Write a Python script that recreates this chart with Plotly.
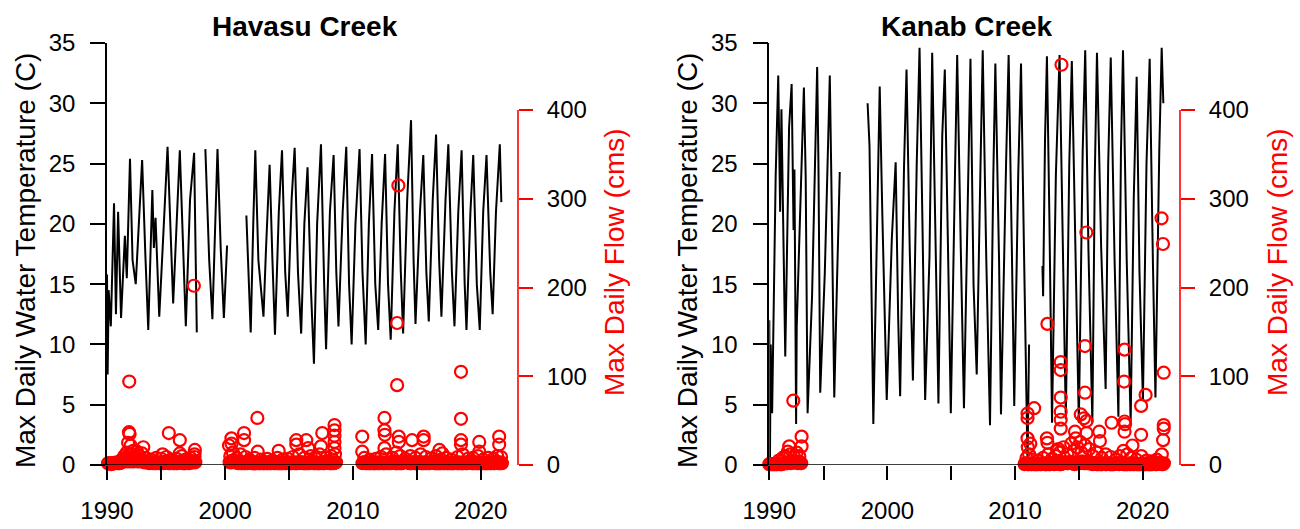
import plotly.graph_objects as go

W, H = 1300, 529

# ---------------- DATA ----------------
# Havasu Creek max daily water temperature (decimal year, deg C); None marks a gap
havasu_temp = [
    (1990.75, 15.8), (1990.80, 7.5), (1990.88, 14.5), (1991.05, 11.5), (1991.30, 21.7),
    (1991.45, 12.5), (1991.62, 21.0), (1991.85, 12.2), (1992.15, 19.0), (1992.30, 15.5),
    (1992.55, 25.4), (1992.75, 17.0), (1993.00, 15.0), (1993.50, 25.3), (1993.75, 17.5),
    (1993.98, 11.2), (1994.30, 22.8), (1994.42, 18.0), (1994.55, 20.5), (1994.84, 12.3),
    (1995.20, 20.0), (1995.49, 26.4), (1995.93, 13.4), (1996.20, 20.5), (1996.45, 26.1),
    (1996.92, 11.5), (1997.25, 22.0), (1997.57, 25.9), (1997.70, 17.0), (1997.78, 11.0),
    (None, None),
    (1998.45, 26.2), (1998.75, 17.0), (1999.00, 12.1), (1999.20, 20.0), (1999.40, 26.2),
    (1999.65, 18.0), (1999.90, 12.2), (2000.15, 18.2),
    (None, None),
    (2001.66, 20.7), (2002.00, 11.0), (2002.20, 20.0), (2002.36, 26.1), (2002.60, 17.0),
    (2003.00, 12.3), (2003.20, 18.0), (2003.48, 24.9), (2003.70, 17.0), (2003.90, 10.8),
    (2004.20, 21.0), (2004.45, 26.1), (2004.70, 16.0), (2004.90, 12.3), (2005.20, 22.0),
    (2005.44, 26.3), (2005.70, 16.0), (2005.95, 10.9), (2006.20, 20.0), (2006.45, 24.7),
    (2006.70, 15.0), (2006.95, 8.4), (2007.20, 20.0), (2007.50, 26.6), (2007.75, 15.0),
    (2007.90, 9.6), (2008.20, 21.0), (2008.49, 25.7), (2008.70, 16.0), (2008.87, 11.5),
    (2009.20, 21.0), (2009.48, 26.4), (2009.70, 15.0), (2009.90, 10.0), (2010.20, 20.0),
    (2010.52, 26.2), (2010.75, 16.0), (2011.00, 10.0), (2011.25, 20.0), (2011.50, 25.8),
    (2011.75, 15.0), (2011.98, 11.2), (2012.25, 20.0), (2012.52, 25.8), (2012.75, 15.0),
    (2012.96, 10.4), (2013.25, 21.0), (2013.51, 26.6), (2013.75, 16.0), (2013.93, 10.9),
    (2014.25, 22.0), (2014.55, 28.6), (2014.75, 17.0), (2014.90, 11.7), (2015.25, 21.0),
    (2015.51, 25.7), (2015.75, 16.0), (2015.94, 11.9), (2016.25, 22.0), (2016.51, 27.4),
    (2016.75, 17.0), (2016.93, 12.3), (2017.25, 22.0), (2017.47, 26.6), (2017.75, 16.0),
    (2017.95, 11.5), (2018.25, 21.0), (2018.51, 26.1), (2018.75, 15.0), (2018.89, 11.2),
    (2019.20, 21.0), (2019.42, 25.7), (2019.70, 15.0), (2019.93, 11.2), (2020.20, 21.0),
    (2020.46, 25.7), (2020.75, 16.0), (2020.94, 12.5), (2021.20, 21.0), (2021.50, 26.6),
    (2021.62, 21.8),
]

# Kanab Creek max daily water temperature (decimal year, deg C)
kanab_temp = [
    (1990.75, 12.0), (1990.80, 0.2), (1990.86, 10.0), (1990.97, 4.3), (1991.25, 24.0),
    (1991.45, 32.3), (1991.60, 21.0), (1991.70, 29.5), (1992.00, 9.0), (1992.30, 28.0),
    (1992.50, 31.6), (1992.65, 19.5), (1992.72, 24.5), (1992.85, 3.4), (1992.90, 11.5),
    (1993.20, 22.0), (1993.46, 31.3), (1993.60, 24.0), (1993.75, 4.3), (1994.10, 14.0),
    (1994.50, 33.0), (1994.60, 25.0), (1994.74, 6.0), (1995.10, 16.0), (1995.49, 32.3),
    (1995.60, 24.5), (1995.84, 5.6), (1996.05, 15.0), (1996.27, 24.3),
    (None, None),
    (1998.45, 30.0), (1998.60, 26.5), (1998.90, 3.4), (1999.15, 16.0), (1999.40, 31.4),
    (1999.60, 21.0), (1999.95, 5.4), (2000.35, 18.8), (2000.65, 25.1), (2000.85, 12.0),
    (2001.00, 5.7), (2001.30, 24.5), (2001.50, 32.8), (2001.75, 18.0), (2002.00, 7.0),
    (2002.30, 25.0), (2002.52, 34.6), (2002.75, 20.0), (2002.96, 5.4), (2003.30, 17.3),
    (2003.51, 34.2), (2003.75, 20.0), (2004.00, 5.1), (2004.30, 27.3), (2004.50, 32.8),
    (2004.75, 18.0), (2004.97, 4.3), (2005.30, 24.3), (2005.47, 34.0), (2005.75, 18.0),
    (2006.00, 4.7), (2006.30, 21.9), (2006.51, 33.7), (2006.75, 15.0), (2007.00, 7.5),
    (2007.30, 25.0), (2007.47, 34.4), (2007.75, 17.0), (2008.04, 3.3), (2008.30, 24.0),
    (2008.46, 33.3), (2008.75, 17.0), (2008.90, 4.2), (2009.30, 25.0), (2009.50, 34.0),
    (2009.75, 18.0), (2009.94, 4.9), (2010.25, 24.0), (2010.47, 33.3), (2010.70, 18.0),
    (2010.98, 0.2), (2011.10, 10.0),
    (None, None),
    (2012.15, 16.5), (2012.20, 14.0), (2012.35, 27.0), (2012.50, 33.9), (2012.70, 20.0),
    (2012.90, 3.5), (2013.20, 24.0), (2013.49, 34.0), (2013.75, 18.0), (2013.98, 3.8),
    (2014.25, 25.0), (2014.45, 33.5), (2014.75, 17.0), (2015.00, 3.5), (2015.30, 26.0),
    (2015.50, 34.4), (2015.75, 18.0), (2016.06, 3.5), (2016.25, 24.0), (2016.42, 34.2),
    (2016.75, 18.0), (2017.10, 6.3), (2017.30, 25.0), (2017.50, 33.8), (2017.80, 17.0),
    (2018.10, 4.0), (2018.30, 26.0), (2018.46, 34.4), (2018.75, 17.0), (2019.06, 3.5),
    (2019.30, 22.0), (2019.53, 32.2), (2019.75, 16.0), (2020.02, 5.4), (2020.30, 25.0),
    (2020.55, 33.7), (2020.80, 17.0), (2021.00, 5.6), (2021.30, 26.0), (2021.49, 34.6),
    (2021.62, 30.0),
]

# Base-flow circles: each run starts at a decimal year, one value per month (cms)
havasu_base_runs = [
    (1990.83, [2, 2, 2, 1, 2, 2, 2, 2, 3, 2, 2, 2, 3,
               3, 4, 5, 6, 5, 4, 6, 5, 4, 5, 6, 4,
               5, 6, 5, 4, 6, 5, 4, 5, 4, 3, 4, 3,
               3, 3, 2, 3, 3, 2, 3, 2, 2, 3, 3, 2,
               2, 3, 3, 2, 3, 3, 4, 3, 2, 2, 3, 3,
               2, 2, 3, 2, 2, 3, 3, 4, 3, 2, 2, 2,
               2, 3, 3, 2, 3, 4, 3, 3, 4, 3]),
    (2000.35, [3, 4, 3, 5, 4, 3, 4, 3, 2, 3, 3, 2,
               2, 3, 2, 2, 3, 2, 3, 4, 3, 2, 2, 2,
               2, 2, 3, 2, 2, 2, 3, 2, 2, 2, 3, 2,
               2, 3, 2, 2, 3, 3, 2, 2, 3, 2, 2, 2,
               2, 2, 2, 3, 2, 2, 3, 3, 2, 2, 2, 3,
               3, 2, 2, 2, 3, 3, 2, 3, 3, 2, 2, 2,
               2, 3, 2, 2, 3, 4, 3, 2, 2, 3, 2, 2,
               2, 2, 3, 3, 2, 2, 3, 4, 4, 3, 2, 2,
               2, 3, 2, 3, 3]),
    (2010.75, [2, 3, 3, 2, 2, 3, 2, 2, 2, 3, 2, 2,
               2, 2, 3, 2, 2, 3, 3, 2, 2, 2, 3, 2,
               3, 2, 2, 3, 3, 4, 3, 2, 2, 2, 3, 2,
               2, 2, 3, 3, 4, 4, 3, 3, 2, 2, 2, 3,
               3, 2, 2, 2, 3, 3, 3, 2, 2, 2, 3, 2,
               2, 3, 2, 2, 3, 3, 4, 3, 2, 2, 2, 2,
               2, 2, 2, 3, 2, 2, 3, 2, 2, 2, 3, 2,
               2, 2, 2, 3, 3, 2, 2, 3, 2, 2, 2, 2,
               3, 2, 2, 3, 3, 4, 3, 2, 2, 2, 3, 2,
               2, 2, 2, 3, 2, 2, 3, 2, 2, 2, 2, 3,
               2, 2, 3, 2, 2, 3, 3, 3, 2, 2, 3, 2]),
]
kanab_base_runs = [
    (1990.75, [1, 1, 1, 1, 1, 1, 1, 1, 1, 2, 1, 1,
               1, 2, 2, 3, 2, 2, 3, 3, 2, 3, 4, 3,
               3, 4, 3, 2, 3, 3, 2]),
    (2010.75, [1, 2, 2, 1, 1, 2, 1, 1, 2, 1, 1, 1,
               1, 1, 2, 1, 1, 2, 2, 1, 1, 1, 2, 1,
               1, 2, 2, 2, 1, 2, 2, 3, 2, 1, 1, 2,
               2, 2, 3, 3, 2, 2, 3, 3, 2, 2, 2, 1,
               2, 3, 3, 2, 2, 3, 4, 3, 2, 2, 3, 2,
               2, 2, 2, 2, 1, 2, 2, 2, 1, 1, 2, 1,
               1, 1, 2, 2, 1, 1, 2, 2, 1, 1, 1, 1,
               1, 2, 2, 2, 2, 1, 2, 2, 2, 1, 1, 1,
               1, 1, 2, 1, 1, 2, 1, 1, 2, 1, 1, 1,
               1, 1, 2, 2, 1, 1, 1, 2, 1, 1, 1, 1,
               1, 2, 2, 1, 1, 2, 2, 3, 2, 1, 1, 2]),
]

# Scattered mid-level circles just above the base band (decimal year, cms)
havasu_mid = [
    (1991.9, 6), (1992.1, 10), (1992.2, 8), (1992.3, 14), (1992.7, 12), (1992.8, 16),
    (1992.9, 8), (1993.1, 15), (1993.2, 11), (1993.3, 10), (1993.5, 13), (1993.8, 8),
    (1994.2, 6), (1994.6, 8), (1995.0, 7), (1995.4, 9), (1995.8, 6), (1996.2, 7),
    (1996.6, 10), (1996.9, 6), (1997.3, 8), (1997.6, 9), (2000.4, 10), (2000.6, 14),
    (2000.9, 8), (2001.2, 12), (2001.6, 9), (2001.9, 6), (2002.3, 8), (2002.8, 6),
    (2003.3, 7), (2003.7, 5), (2004.1, 8), (2004.5, 6), (2004.9, 7), (2005.3, 9),
    (2005.8, 12), (2006.2, 8), (2006.7, 10), (2007.1, 7), (2007.4, 12), (2007.9, 8),
    (2008.3, 10), (2008.6, 12), (2010.9, 8), (2011.3, 6), (2011.8, 7), (2012.2, 9),
    (2012.6, 12), (2013.1, 8), (2013.4, 14), (2013.7, 10), (2014.1, 7), (2014.5, 10),
    (2014.9, 8), (2015.3, 12), (2015.7, 9), (2016.1, 7), (2016.5, 10), (2016.9, 6),
    (2017.3, 8), (2017.7, 6), (2018.2, 9), (2018.6, 12), (2019.0, 7), (2019.4, 8),
    (2019.8, 10), (2020.2, 6), (2020.6, 8), (2021.0, 7), (2021.3, 10), (2021.6, 9),
]
kanab_mid = [
    (1991.5, 5), (1991.8, 8), (1992.0, 10), (1992.4, 12), (1992.7, 9), (1992.9, 14),
    (1993.1, 10), (2010.9, 8), (2011.1, 12), (2011.4, 6), (2011.8, 5), (2012.2, 8),
    (2012.6, 12), (2012.9, 7), (2013.2, 10), (2013.5, 14), (2013.8, 20), (2014.1, 12),
    (2014.4, 24), (2014.6, 16), (2014.9, 20), (2015.2, 14), (2015.5, 22), (2015.8, 18),
    (2016.1, 10), (2016.4, 14), (2016.8, 8), (2017.1, 12), (2017.5, 9), (2017.9, 6),
    (2018.2, 10), (2018.5, 16), (2018.8, 12), (2019.1, 8), (2019.5, 6), (2019.9, 10),
    (2020.3, 5), (2020.7, 4), (2021.1, 6), (2021.5, 12),
]

# Individual high-flow circles (decimal year, max daily flow cms)
havasu_peaks = [
    (1992.49, 94), (1992.47, 37), (1992.52, 35), (1992.40, 25), (1992.60, 22),
    (1993.59, 20), (1995.10, 12), (1995.59, 36), (1996.45, 28), (1996.45, 13),
    (1997.63, 17), (1997.60, 12), (1997.55, 202), (2000.30, 22), (2000.49, 30),
    (2000.50, 24), (2001.48, 36), (2001.48, 28), (2002.52, 53), (2002.55, 15),
    (2004.19, 16), (2005.57, 28), (2005.57, 23), (2006.35, 28), (2006.50, 19),
    (2007.50, 21), (2007.60, 36), (2008.56, 45), (2008.56, 39), (2008.56, 33),
    (2008.56, 26), (2008.56, 19), (2010.73, 32), (2010.73, 15), (2012.47, 53),
    (2012.47, 39), (2012.50, 34), (2012.47, 19), (2013.46, 160), (2013.46, 90),
    (2013.56, 315), (2013.59, 32), (2013.59, 26), (2014.63, 28), (2015.54, 32),
    (2015.54, 28), (2016.77, 17), (2017.00, 13), (2018.46, 105), (2018.46, 52),
    (2018.46, 28), (2018.46, 23), (2019.89, 26), (2019.89, 15), (2021.45, 32),
    (2021.45, 23),
]
kanab_peaks = [
    (1992.63, 72.5), (1993.28, 32), (1993.28, 21), (1992.31, 21), (1992.20, 15),
    (2010.98, 58), (2010.98, 53), (2011.50, 64), (2010.98, 30), (2011.00, 20),
    (2011.20, 24), (2012.50, 30), (2012.54, 25), (2012.54, 159), (2013.58, 116),
    (2013.58, 107), (2013.58, 76), (2013.58, 60), (2013.58, 51), (2013.58, 41),
    (2013.64, 451), (2013.40, 18), (2013.30, 16), (2014.70, 37.5), (2014.75, 30),
    (2015.15, 57), (2015.48, 134), (2015.48, 81.5), (2015.59, 262), (2015.40, 52.6),
    (2015.60, 49.5), (2015.60, 36), (2016.60, 37.5), (2016.65, 27), (2017.57, 47.6),
    (2018.58, 130), (2018.55, 94), (2018.58, 49), (2018.62, 46), (2018.58, 37.5),
    (2019.20, 22), (2019.88, 66.6), (2020.23, 79), (2019.88, 34), (2021.48, 278),
    (2021.59, 249), (2021.65, 104), (2021.65, 45), (2021.65, 41), (2021.60, 28),
    (2015.10, 26),
]

panel_titles = ["Havasu Creek", "Kanab Creek"]
temp_ticks = [0, 5, 10, 15, 20, 25, 30, 35]
flow_ticks = [0, 100, 200, 300, 400]
year_tickvals = [1990.75, 1995, 2000, 2005, 2010, 2015, 2020]
year_ticktext = ["1990", "", "2000", "", "2010", "", "2020"]
x_range = [1990.75, 2021.75]

# ---------------- FIGURE ----------------
FONT = "Liberation Sans, Arial, Helvetica, sans-serif"
RED = "#FF0000"


def px(xp):
    return xp / W


def py(yp):
    return 1 - yp / H


def flow_points(runs, mid, peaks):
    xs, ys = [], []
    for start, vals in runs:
        for i, v in enumerate(vals):
            xs.append(start + i / 12.0)
            ys.append(v)
    for t, v in list(mid) + list(peaks):
        xs.append(t)
        ys.append(v)
    return xs, ys


fig = go.Figure()

panels = [
    dict(temp=havasu_temp, runs=havasu_base_runs, mid=havasu_mid, peaks=havasu_peaks,
         xa="x", ya="y", ya2="y2", left=107, right=503, raxis=518, title_x=305,
         ltitle_x=25, rtitle_x=614),
    dict(temp=kanab_temp, runs=kanab_base_runs, mid=kanab_mid, peaks=kanab_peaks,
         xa="x2", ya="y3", ya2="y4", left=769.3, right=1165, raxis=1180, title_x=967,
         ltitle_x=687, rtitle_x=1277),
]

y_dom = [py(465), py(43)]
flow_top = 422 / 0.8875

for k, p in enumerate(panels):
    tx = [a for a, b in p["temp"]]
    tv = [b for a, b in p["temp"]]
    fig.add_trace(go.Scatter(x=tx, y=tv, mode="lines", xaxis=p["xa"], yaxis=p["ya"],
                             line=dict(color="black", width=2.0), connectgaps=False,
                             showlegend=False, hoverinfo="skip"))
    fx, fy = flow_points(p["runs"], p["mid"], p["peaks"])
    fig.add_trace(go.Scatter(x=fx, y=fy, mode="markers", xaxis=p["xa"], yaxis=p["ya2"],
                             marker=dict(symbol="circle-open", size=12, color=RED,
                                         line=dict(width=2.2, color=RED)),
                             showlegend=False, hoverinfo="skip", cliponaxis=False))

    xkey = "xaxis" if k == 0 else "xaxis2"
    ykey = "yaxis" if k == 0 else "yaxis3"
    y2key = "yaxis2" if k == 0 else "yaxis4"
    tick_font = dict(family=FONT, size=24, color="black")
    fig.update_layout(**{
        xkey: dict(domain=[px(p["left"]), px(p["right"])], range=x_range,
                   anchor=p["ya"], tickmode="array", tickvals=year_tickvals,
                   ticktext=year_ticktext, ticks="outside", ticklen=14, tickwidth=1.6,
                   tickcolor="black", showline=False, showgrid=False, zeroline=False,
                   tickfont=tick_font, ticklabelstandoff=10, automargin=False),
        ykey: dict(domain=y_dom, range=[0, 35], anchor=p["xa"], tickmode="array",
                   tickvals=temp_ticks, ticks="outside", ticklen=15, tickwidth=1.6,
                   tickcolor="black", showline=True, linecolor="black", linewidth=1.6,
                   showgrid=False, zeroline=False, tickfont=tick_font,
                   ticklabelstandoff=10, automargin=False),
        y2key: dict(overlaying=p["ya"], anchor="free", position=px(p["raxis"]),
                    side="right", range=[0, flow_top], tickmode="array",
                    tickvals=flow_ticks, ticks="outside", ticklen=14, tickwidth=1.6,
                    tickcolor=RED, showline=False, showgrid=False, zeroline=False,
                    tickfont=tick_font, ticklabelstandoff=9, automargin=False),
    })

    # R-style axis lines spanning first..last tick
    fig.add_shape(type="line", xref="paper", yref=p["ya2"], x0=px(p["raxis"]),
                  x1=px(p["raxis"]), y0=0, y1=400, line=dict(color=RED, width=1.6))
    fig.add_shape(type="line", xref=p["xa"], yref=p["ya"], x0=year_tickvals[0],
                  x1=year_tickvals[-1], y0=0, y1=0, line=dict(color="black", width=1.6))

    fig.add_annotation(text="<b>%s</b>" % panel_titles[k], xref="paper", yref="paper",
                       x=px(p["title_x"]), y=py(26), xanchor="center", yanchor="middle",
                       showarrow=False, font=dict(family=FONT, size=28, color="black"))
    fig.add_annotation(text="Max Daily Water Temperature (C)", xref="paper", yref="paper",
                       x=px(p["ltitle_x"]), y=py(261), xanchor="center", yanchor="middle",
                       textangle=-90, showarrow=False,
                       font=dict(family=FONT, size=28, color="black"))
    fig.add_annotation(text="Max Daily Flow (cms)", xref="paper", yref="paper",
                       x=px(p["rtitle_x"]), y=py(262), xanchor="center", yanchor="middle",
                       textangle=-90, showarrow=False,
                       font=dict(family=FONT, size=28, color=RED))

fig.update_layout(width=W, height=H, autosize=False,
                  margin=dict(l=0, r=0, t=0, b=0, autoexpand=False),
                  paper_bgcolor="white", plot_bgcolor="white",
                  font=dict(family=FONT, color="black"))

fig.write_html("out.html", config={"displayModeBar": False},
               post_script="document.body.style.margin='0';"
                           "document.body.style.overflow='hidden';")
